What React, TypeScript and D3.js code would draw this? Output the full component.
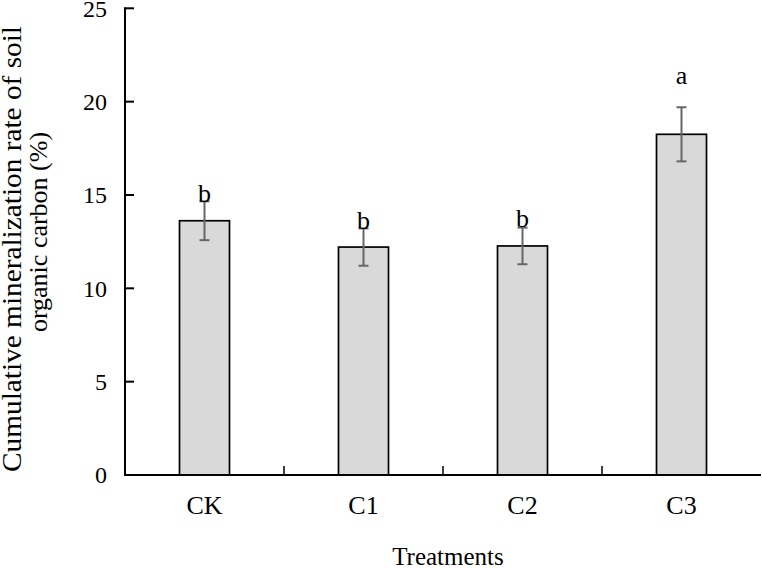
import React from "react";
import * as d3 from "d3";

const categories = ["CK", "C1", "C2", "C3"];
const means = [13.62, 12.21, 12.27, 18.25];
const errors = [1.04, 1.0, 0.98, 1.45];
const letters = ["b", "b", "b", "a"];
const letterLevels = [14.65, 13.2, 13.27, 20.93];
const yTicks = [0, 5, 10, 15, 20, 25];

const W = 762;
const H = 568;
const FONT = "'Liberation Serif', 'Times New Roman', serif";

export default function App() {
  const x = d3.scaleBand<string>().domain(categories).range([125, 761]).padding(0);
  const y = d3.scaleLinear().domain([0, 25]).range([475, 8.3]);
  const barW = 50;
  const bw = x.bandwidth();

  return (
    <svg
      width={W}
      height={H}
      style={{ position: "absolute", left: 0, top: 0, background: "#fff" }}
      fontFamily={FONT}
    >
      {/* bars */}
      {categories.map((c, i) => {
        const cx = (x(c) as number) + bw / 2;
        return (
          <rect
            key={c}
            x={cx - barW / 2}
            y={y(means[i])}
            width={barW}
            height={y(0) - y(means[i])}
            fill="#d9d9d9"
            stroke="#000"
            strokeWidth={1.7}
          />
        );
      })}
      {/* error bars */}
      {categories.map((c, i) => {
        const cx = (x(c) as number) + bw / 2;
        const lo = y(means[i] - errors[i]);
        const hi = y(means[i] + errors[i]);
        return (
          <g key={c} stroke="#666" strokeWidth={2}>
            <line x1={cx} x2={cx} y1={lo} y2={hi} />
            <line x1={cx - 5} x2={cx + 5} y1={lo} y2={lo} />
            <line x1={cx - 5} x2={cx + 5} y1={hi} y2={hi} />
          </g>
        );
      })}
      {/* significance letters */}
      {categories.map((c, i) => {
        const cx = (x(c) as number) + bw / 2;
        return (
          <text key={c} x={cx} y={y(letterLevels[i])} textAnchor="middle" fontSize={26} fill="#000">
            {letters[i]}
          </text>
        );
      })}
      {/* y axis */}
      <line x1={125} x2={125} y1={y(25) - 1} y2={y(0)} stroke="#000" strokeWidth={2} />
      {yTicks.map((t) => (
        <g key={t}>
          <line x1={125} x2={134} y1={y(t)} y2={y(t)} stroke="#000" strokeWidth={2} />
          <text x={107} y={y(t) + 8.4} textAnchor="end" fontSize={24} fill="#000">
            {t}
          </text>
        </g>
      ))}
      {/* x axis */}
      <line x1={124} x2={761} y1={y(0)} y2={y(0)} stroke="#000" strokeWidth={2} />
      {categories.slice(1).map((c) => (
        <line
          key={c}
          x1={x(c) as number}
          x2={x(c) as number}
          y1={y(0)}
          y2={y(0) - 9}
          stroke="#000"
          strokeWidth={1.5}
        />
      ))}
      {categories.map((c) => (
        <text
          key={c}
          x={(x(c) as number) + bw / 2}
          y={514}
          textAnchor="middle"
          fontSize={26}
          fill="#000"
        >
          {c}
        </text>
      ))}
      <text x={448} y={565} textAnchor="middle" fontSize={25} fill="#000">
        Treatments
      </text>
      {/* y title */}
      <text
        transform="translate(21,249) rotate(-90)"
        textAnchor="middle"
        fontSize={27}
        textLength={446}
        lengthAdjust="spacingAndGlyphs"
        fill="#000"
      >
        Cumulative mineralization rate of soil
      </text>
      <text
        transform="translate(47,232) rotate(-90)"
        textAnchor="middle"
        fontSize={26}
        fill="#000"
      >
        organic carbon (%)
      </text>
    </svg>
  );
}
